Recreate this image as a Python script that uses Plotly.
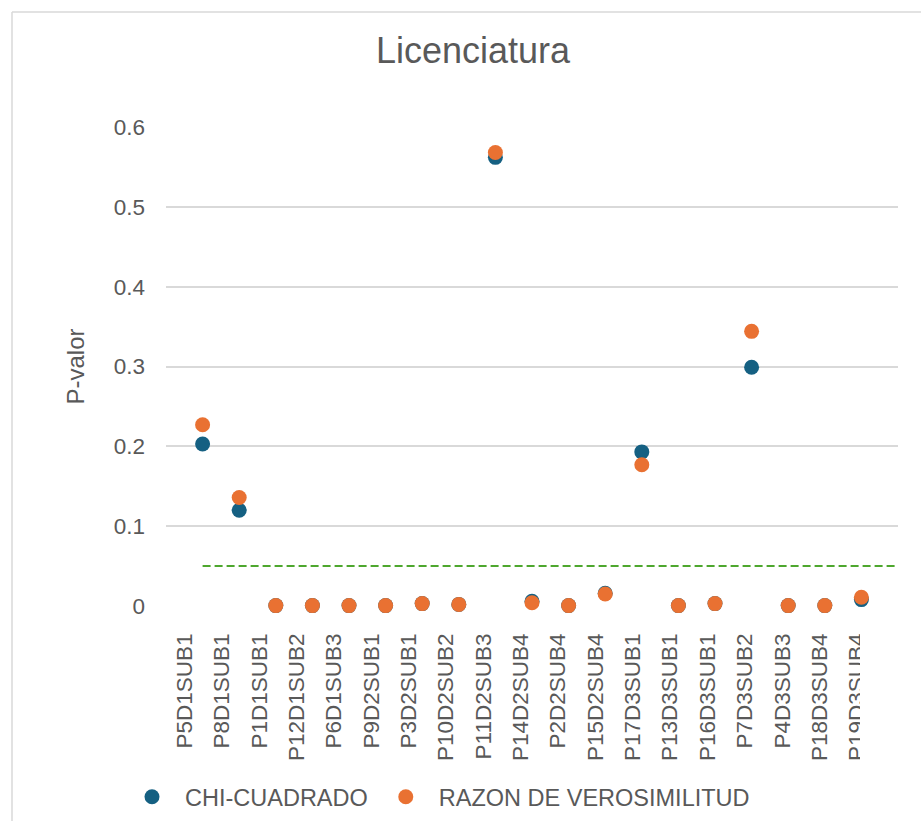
import plotly.graph_objects as go

# ---- data ----
categories = ["P5D1SUB1", "P8D1SUB1", "P1D1SUB1", "P12D1SUB2", "P6D1SUB3",
              "P9D2SUB1", "P3D2SUB1", "P10D2SUB2", "P11D2SUB3", "P14D2SUB4",
              "P2D2SUB4", "P15D2SUB4", "P17D3SUB1", "P13D3SUB1", "P16D3SUB1",
              "P7D3SUB2", "P4D3SUB3", "P18D3SUB4", "P19D3SUB4"]
chi_cuadrado = [0.203, 0.120, 0.0005, 0.0005, 0.0005, 0.0005, 0.003, 0.002,
                0.562, 0.006, 0.0005, 0.016, 0.193, 0.0005, 0.003, 0.299,
                0.0005, 0.0005, 0.008]
razon_verosimilitud = [0.227, 0.136, 0.0005, 0.0005, 0.0005, 0.0005, 0.003, 0.002,
                       0.568, 0.004, 0.0005, 0.015, 0.177, 0.0005, 0.003, 0.344,
                       0.0005, 0.0005, 0.011]
alpha = 0.05
y_ticks = [0, 0.1, 0.2, 0.3, 0.4, 0.5, 0.6]

# ---- styling / layout geometry ----
W, H = 921, 821
PL, PR, PT, PB = 166, 898, 127, 606
TXT = "#595959"
FONT = "Liberation Sans, Arial, sans-serif"
BLUE, ORANGE, GREEN = "#156082", "#E97132", "#4EA72E"

def px_x(p):
    return (p - PL) / (PR - PL)

def px_y(p):
    return (PB - p) / (PB - PT)

n = len(categories)
xpos = list(range(1, n + 1))

fig = go.Figure()
fig.add_trace(go.Scatter(x=[1, n + 1], y=[alpha, alpha], mode="lines",
                         line=dict(color=GREEN, width=2, dash="8px,4px"),
                         showlegend=False, hoverinfo="skip"))
fig.add_trace(go.Scatter(x=xpos, y=chi_cuadrado, mode="markers", name="CHI-CUADRADO",
                         marker=dict(color=BLUE, size=15), cliponaxis=False))
fig.add_trace(go.Scatter(x=xpos, y=razon_verosimilitud, mode="markers",
                         name="RAZON DE VEROSIMILITUD",
                         marker=dict(color=ORANGE, size=15), cliponaxis=False))
# category label axis
fig.add_trace(go.Scatter(x=categories, y=[None] * n, xaxis="x2", mode="markers",
                         showlegend=False, hoverinfo="skip"))

shapes = [
    dict(type="line", xref="paper", yref="paper", x0=px_x(12), x1=px_x(W),
         y0=px_y(12), y1=px_y(12), line=dict(color="#D9D9D9", width=1.5)),
    dict(type="line", xref="paper", yref="paper", x0=px_x(12), x1=px_x(12),
         y0=px_y(12), y1=px_y(H), line=dict(color="#D9D9D9", width=1.5)),
    dict(type="rect", xref="paper", yref="paper", x0=px_x(860), x1=px_x(W),
         y0=px_y(775), y1=px_y(615), fillcolor="white", line=dict(width=0),
         layer="above"),
]

fig.update_layout(
    width=W, height=H,
    margin=dict(l=PL, r=W - PR, t=PT, b=H - PB, pad=0, autoexpand=False),
    paper_bgcolor="white", plot_bgcolor="white",
    font=dict(family=FONT, color=TXT, size=22),
    title=dict(text="Licenciatura", x=473 / W, xanchor="center",
               y=1 - 50 / H, yanchor="middle",
               font=dict(size=36, color=TXT, family=FONT)),
    xaxis=dict(range=[0, n + 1], showgrid=False, zeroline=False,
               showticklabels=False, showline=False),
    xaxis2=dict(overlaying="x", anchor="y", side="bottom", type="category",
                categoryorder="array", categoryarray=categories,
                range=[-0.5, n + 0.1], tickangle=-90, showgrid=False,
                zeroline=False, showline=False, ticks="",
                tickfont=dict(size=22.5, color=TXT), ticklabelstandoff=22),
    yaxis=dict(range=[0, 0.6], tickvals=y_ticks, ticktext=[f"{v:g}" for v in y_ticks],
               showgrid=True, gridcolor="#D9D9D9", gridwidth=1.5,
               zeroline=False, showline=False, ticks="",
               tickfont=dict(size=22.5, color=TXT), ticklabelstandoff=20,
               title=dict(text="P-valor", font=dict(size=24, color=TXT), standoff=22)),
    legend=dict(orientation="h", xref="container", yref="container",
                x=119 / W, xanchor="left",
                y=1 - 797 / H, yanchor="middle",
                font=dict(size=23.5, color=TXT), itemwidth=56,
                bgcolor="rgba(0,0,0,0)"),
    shapes=shapes,
    showlegend=True,
)

fig.write_html("out.html")
